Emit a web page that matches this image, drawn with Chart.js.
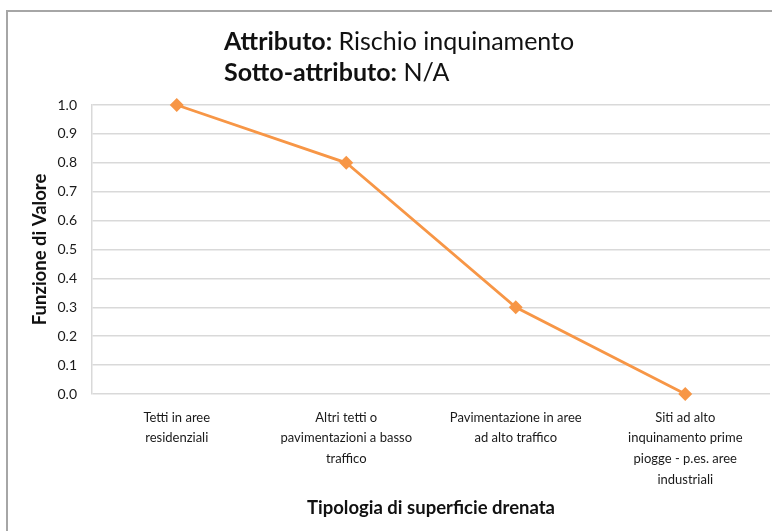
<!DOCTYPE html>
<html>
<head>
<meta charset="utf-8">
<script src="https://cdn.jsdelivr.net/npm/chart.js@4"></script>
<style>
  html, body { margin: 0; padding: 0; background: #fff; }
  #wrap { position: relative; width: 772px; height: 531px; overflow: hidden; font-family: Lato, "Open Sans", sans-serif; }
  #frame { position: absolute; left: 6px; top: 10px; width: 800px; height: 600px; border-left: 2px solid #a6a6a6; border-top: 2px solid #a6a6a6; box-sizing: border-box; }
  #title { position: absolute; left: 224px; top: 25px; font-size: 25px; line-height: 31px; color: #111; white-space: nowrap; }
  #title b { font-weight: 700; }
  canvas { position: absolute; left: 0; top: 0; }
</style>
</head>
<body>
<div id="wrap">
  <div id="frame"></div>
  <canvas id="c" width="772" height="531"></canvas>
  <div id="title">
    <div><b>Attributo:</b> Rischio inquinamento</div>
    <div><b>Sotto-attributo:</b> N/A</div>
  </div>
</div>
<script>
const categories = [
  ["Tetti in aree", "residenziali"],
  ["Altri tetti o", "pavimentazioni a basso", "traffico"],
  ["Pavimentazione in aree", "ad alto traffico"],
  ["Siti ad alto", "inquinamento prime", "piogge - p.es. aree", "industriali"]
];
const values = [1.0, 0.8, 0.3, 0.0];
const yTicks = [0.0, 0.1, 0.2, 0.3, 0.4, 0.5, 0.6, 0.7, 0.8, 0.9, 1.0];
const xTitle = "Tipologia di superficie drenata";
const yTitle = "Funzione di Valore";

const orange = "#F79646";
const fontFam = "Lato, 'Open Sans', sans-serif";

new Chart(document.getElementById("c"), {
  type: "line",
  data: {
    labels: categories,
    datasets: [{
      data: values,
      borderColor: orange,
      backgroundColor: orange,
      borderWidth: 2.8,
      pointStyle: "rectRot",
      pointRadius: 5,
      pointHoverRadius: 5,
      tension: 0,
      fill: false,
      clip: false
    }]
  },
  options: {
    responsive: false,
    animation: false,
    events: [],
    layout: { autoPadding: false, padding: { top: 105, right: 2, left: 0, bottom: 0 } },
    plugins: { legend: { display: false }, tooltip: { enabled: false }, title: { display: false } },
    scales: {
      x: {
        offset: true,
        grid: { display: false, drawTicks: false },
        border: { display: false },
        ticks: {
          color: "#1a1a1a",
          font: { family: fontFam, size: 13, lineHeight: 1.6 },
          padding: 13,
          maxRotation: 0,
          autoSkip: false
        },
        title: {
          display: true,
          text: xTitle,
          color: "#111",
          font: { family: fontFam, size: 18.5, weight: "bold", lineHeight: 1.2 },
          padding: { top: 0, bottom: 12 }
        },
        afterFit: (s) => { s.height = 137; s.paddingLeft = 0; s.paddingRight = 0; }
      },
      y: {
        min: 0,
        max: 1,
        afterBuildTicks: (s) => { s.ticks = yTicks.map(v => ({ value: v })); },
        grid: { color: "#d9d9d9", lineWidth: 1.5, drawTicks: false },
        border: { display: true, color: "#d9d9d9", width: 1.5 },
        ticks: {
          color: "#1a1a1a",
          font: { family: fontFam, size: 14 },
          padding: 15,
          callback: (v) => Number(v).toFixed(1)
        },
        title: {
          display: true,
          text: yTitle,
          color: "#111",
          font: { family: fontFam, size: 18.5, weight: "bold", lineHeight: 1.2 },
          padding: { top: 29, bottom: 0 }
        },
        afterFit: (s) => { s.width = 92; s.paddingTop = 0; s.paddingBottom = 0; }
      }
    }
  }
});
</script>
</body>
</html>
